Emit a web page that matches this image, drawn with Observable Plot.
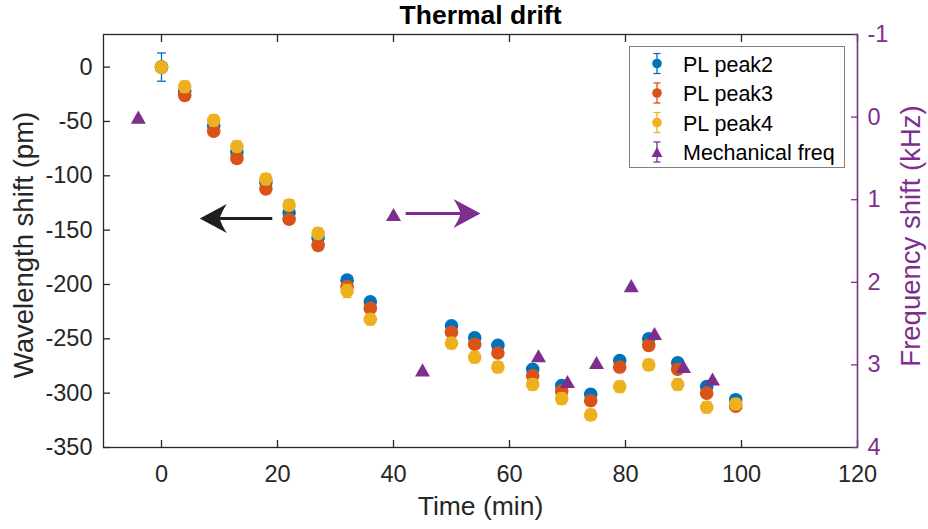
<!DOCTYPE html>
<html><head><meta charset="utf-8">
<script src="https://cdn.jsdelivr.net/npm/d3@7"></script>
<script src="https://cdn.jsdelivr.net/npm/@observablehq/plot@0.6"></script>
<style>
body{margin:0;background:#fff;}
#wrap{position:relative;width:928px;height:529px;overflow:hidden;font-family:"Liberation Sans",Arial,sans-serif;background:#fff;}
#wrap > svg{position:absolute;left:0;top:0;}
</style></head><body><div id="wrap"></div>
<script>
// ---- data ----
const time  = [0, 4, 9, 13, 18, 22, 27, 32, 36, 50, 54, 58, 64, 69, 74, 79, 84, 89, 94, 99];
const peak2 = [0, -22, -54, -78, -106, -134, -157, -196, -216, -238, -249, -256, -278, -293, -301, -270, -250, -272, -294, -306];
const peak3 = [0, -26, -59, -84, -112, -140, -164, -202, -222, -244, -255, -263, -284, -298, -307, -276, -256, -278, -300, -312];
const peak4 = [0, -18, -49, -73, -103, -127, -153, -206, -232, -254, -267, -276, -292, -305, -320, -294, -274, -292, -313, -310];
const peak2Err = [13, 3, 3, 3, 3, 3, 3, 3, 3, 3, 3, 3, 3, 3, 3, 3, 3, 3, 3, 3];
const peak3Err = [3, 4, 4, 4, 4, 4, 4, 4, 4, 4, 4, 4, 4, 4, 4, 4, 4, 4, 4, 4];
const peak4Err = [3, 5, 5, 5, 5, 5, 5, 6, 5, 5, 5, 5, 5, 5, 5, 5, 5, 5, 5, 5];
const mechTime = [-4, 40, 45, 65, 70, 75, 81, 85, 90, 95];
const mechFreq = [0.0, 1.18, 3.06, 2.89, 3.20, 2.97, 2.04, 2.62, 3.02, 3.17];
const mechErr  = [0.04, 0.04, 0.04, 0.04, 0.04, 0.04, 0.04, 0.04, 0.04, 0.04];

const seriesNames  = ["PL peak2", "PL peak3", "PL peak4", "Mechanical freq"];
const seriesColors = ["#0072BD", "#D95319", "#EDB120", "#7E2F8E"];

const xTicks = [0, 20, 40, 60, 80, 100, 120];
const leftTicks = [0, -50, -100, -150, -200, -250, -300, -350];
const rightTicks = [-1, 0, 1, 2, 3, 4];

const titleText = "Thermal drift";
const xLabel = "Time (min)";
const yLabelLeft = "Wavelength shift (pm)";
const yLabelRight = "Frequency shift (kHz)";

// annotation arrows (in left-axis data units)
const arrowX1 = [19.1, 42.1];
const arrowX2 = [6.6, 55.0];
const arrowY  = [-139.3, -134.7];
const arrowColors = ["#1f1f1f", "#7E2F8E"];

// ---- symbols ----
const triSym = {draw(ctx, size){ const r = Math.sqrt(size/Math.PI); ctx.moveTo(0,-0.87*r); ctx.lineTo(r,0.87*r); ctx.lineTo(-r,0.87*r); ctx.closePath(); }};
const capSym = {draw(ctx, size){ const r = Math.sqrt(size/Math.PI); ctx.moveTo(-r,0); ctx.lineTo(r,0); }};
const headSym = {draw(ctx, size){ ctx.moveTo(0,0); ctx.lineTo(-27,-14.5); ctx.quadraticCurveTo(-21,-5,-20,0); ctx.quadraticCurveTo(-21,5,-27,14.5); ctx.closePath(); }};

const FONT = '"Liberation Sans", Arial, Helvetica, sans-serif';
const W = 928, H = 529, ML = 103, MR = 71, MT = 34, MB = 82;
const AX = "#262626";

// ---- left-axis series ----
const peaks = [peak2, peak3, peak4];
const errs = [peak2Err, peak3Err, peak4Err];
const seriesMarks = [];
peaks.forEach((vals, k) => {
  const rows = time.map((t, i) => ({t, v: vals[i], e: errs[k][i]}));
  const c = seriesColors[k];
  seriesMarks.push(
    Plot.ruleX(rows, {x: "t", y1: d => d.v - d.e, y2: d => d.v + d.e, stroke: c, strokeWidth: 1.3}),
    Plot.dot(rows, {x: "t", y: d => d.v - d.e, symbol: capSym, r: 4.5, stroke: c, fill: "none", strokeWidth: 1.3}),
    Plot.dot(rows, {x: "t", y: d => d.v + d.e, symbol: capSym, r: 4.5, stroke: c, fill: "none", strokeWidth: 1.3}),
    Plot.dot(rows, {x: "t", y: "v", r: 6.8, fill: c, stroke: "none"})
  );
});

const arrows = arrowX1.map((x1, i) => ({x1, x2: arrowX2[i], y: arrowY[i], c: arrowColors[i], rot: arrowX2[i] > x1 ? 0 : 180}));

const plot1 = Plot.plot({
  width: W, height: H, marginLeft: ML, marginRight: MR, marginTop: MT, marginBottom: MB,
  x: {domain: [-10, 120]},
  y: {domain: [-350, 30]},
  style: {fontFamily: FONT, fontSize: "23.5px", color: AX, background: "transparent", overflow: "visible"},
  marks: [
    Plot.frame({stroke: AX, strokeWidth: 1.3}),
    Plot.axisX({anchor: "bottom", ticks: xTicks, tickSize: -7, tickPadding: 25, tickFormat: d => String(d), label: null, strokeWidth: 1.3}),
    Plot.axisX({anchor: "top", ticks: xTicks, tickSize: -7, tickFormat: () => "", label: null, strokeWidth: 1.3}),
    Plot.axisY({anchor: "left", ticks: leftTicks, tickSize: -7, tickPadding: 18, tickFormat: d => String(d), label: null, strokeWidth: 1.3}),
    ...seriesMarks,
    Plot.link(arrows, {x1: "x1", x2: d => d.x2 + (d.rot ? 3 : -3), y1: "y", y2: "y", stroke: "c", strokeWidth: 3.2}),
    Plot.dot(arrows, {x: "x2", y: "y", symbol: headSym, r: 10, fill: "c", stroke: "none", rotate: "rot"}),
    Plot.text([xLabel], {text: d => d, frameAnchor: "bottom", textAnchor: "middle", lineAnchor: "middle", dy: 59.5, fontSize: 26.5, fill: AX}),
    Plot.text([yLabelLeft], {text: d => d, frameAnchor: "left", textAnchor: "middle", lineAnchor: "middle", rotate: -90, dx: -79, dy: 4, fontSize: 27.5, fill: AX}),
    Plot.text([titleText], {text: d => d, frameAnchor: "top", textAnchor: "middle", lineAnchor: "middle", dy: -18.5, fontSize: 26.5, fontWeight: "bold", fill: "#000"})
  ]
});

// ---- right-axis series ----
const mechRows = mechTime.map((t, i) => ({t, f: mechFreq[i], e: mechErr[i]}));
const PUR = seriesColors[3];
const plot2 = Plot.plot({
  width: W, height: H, marginLeft: ML, marginRight: MR, marginTop: MT, marginBottom: MB,
  x: {domain: [-10, 120], axis: null},
  y: {domain: [-1, 4], reverse: true},
  style: {fontFamily: FONT, fontSize: "23.5px", color: PUR, background: "transparent", overflow: "visible"},
  marks: [
    Plot.ruleX([120], {stroke: "currentColor", strokeWidth: 1.3}),
    Plot.axisY({anchor: "right", ticks: rightTicks, tickSize: -7, tickPadding: 17, tickFormat: d => String(d), label: null, strokeWidth: 1.3}),
    Plot.text([yLabelRight], {text: d => d, frameAnchor: "right", textAnchor: "middle", lineAnchor: "middle", rotate: -90, dx: 54, dy: -5, fontSize: 27.5, fill: "currentColor"}),
    Plot.ruleX(mechRows, {x: "t", y1: d => d.f - d.e, y2: d => d.f + d.e, stroke: PUR, strokeWidth: 1.3}),
    Plot.dot(mechRows, {x: "t", y: "f", symbol: triSym, r: 7.5, fill: PUR, stroke: "none"})
  ]
});

const wrap = document.getElementById("wrap");
wrap.appendChild(plot1);
wrap.appendChild(plot2);

// ---- legend ----
const leg = d3.create("svg").attr("width", W).attr("height", H).style("position", "absolute").style("left", 0).style("top", 0).style("pointer-events", "none");
leg.append("rect").attr("x", 629.5).attr("y", 46.5).attr("width", 215).attr("height", 121).attr("fill", "#fff").attr("stroke", "#808080").attr("stroke-width", 1);
seriesNames.forEach((name, i) => {
  const cy = 63.5 + 29.5 * i, cx = 657, c = seriesColors[i];
  const g = leg.append("g");
  g.append("line").attr("x1", cx).attr("x2", cx).attr("y1", cy - 10).attr("y2", cy + 10).attr("stroke", c).attr("stroke-width", 1.3);
  g.append("line").attr("x1", cx - 3.5).attr("x2", cx + 3.5).attr("y1", cy - 10).attr("y2", cy - 10).attr("stroke", c).attr("stroke-width", 1.3);
  g.append("line").attr("x1", cx - 3.5).attr("x2", cx + 3.5).attr("y1", cy + 10).attr("y2", cy + 10).attr("stroke", c).attr("stroke-width", 1.3);
  if (i < 3) g.append("circle").attr("cx", cx).attr("cy", cy).attr("r", 4.8).attr("fill", c);
  else g.append("path").attr("d", `M${cx},${cy-5}L${cx+5.5},${cy+5}L${cx-5.5},${cy+5}Z`).attr("fill", c);
  g.append("text").attr("x", 683).attr("y", cy + 8.3).attr("font-family", FONT).attr("font-size", "21.5px").attr("fill", "#000").text(name);
});
wrap.appendChild(leg.node());
</script></body></html>
